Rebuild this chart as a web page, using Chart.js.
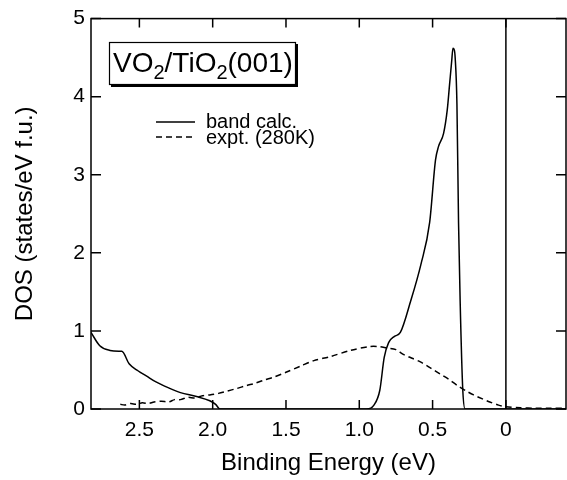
<!DOCTYPE html>
<html>
<head>
<meta charset="utf-8">
<script src="https://cdn.jsdelivr.net/npm/chart.js@4.4.0/dist/chart.umd.min.js"></script>
<style>
  html, body { margin: 0; padding: 0; background: #fff; }
  #c { display: block; }
</style>
</head>
<body>
<canvas id="c" width="567" height="480"></canvas>
<script>
// binding energy (eV), listed left to right as drawn (high -> low)
const bandEnergy = [2.83, 2.77, 2.70, 2.64, 2.62, 2.57, 2.51, 2.45, 2.39, 2.30, 2.22, 2.11, 2.02, 1.98, 1.95,
  1.50, 0.95, 0.90, 0.86, 0.83, 0.80, 0.76, 0.72, 0.65, 0.58, 0.52, 0.48, 0.46, 0.425, 0.40, 0.384, 0.37,
  0.361, 0.352, 0.346, 0.334, 0.323, 0.312, 0.294, 0.278, 0, -0.41];
const bandDos = [0.98, 0.81, 0.75, 0.74, 0.74, 0.58, 0.49, 0.42, 0.35, 0.27, 0.21, 0.16, 0.105, 0.06, 0,
  0, 0, 0.05, 0.24, 0.66, 0.85, 0.93, 0.98, 1.38, 1.85, 2.39, 3.19, 3.36, 3.53, 3.83, 4.16, 4.45,
  4.62, 4.6, 4.5, 3.91, 2.39, 1.38, 0.24, 0, 0, 0];

const exptEnergy = [2.63, 2.60, 2.56, 2.52, 2.48, 2.44, 2.40, 2.35, 2.30, 2.26, 2.22, 2.17, 2.12, 2.07, 2.02,
  1.96, 1.90, 1.84, 1.77, 1.71, 1.65, 1.58, 1.50, 1.40, 1.31, 1.20, 1.06, 0.93, 0.87, 0.81, 0.75,
  0.70, 0.64, 0.58, 0.51, 0.45, 0.39, 0.33, 0.27, 0.22, 0.16, 0.11, 0.05, 0.0, -0.1, -0.2, -0.3, -0.41];
const exptDos = [0.06, 0.05, 0.07, 0.06, 0.08, 0.07, 0.09, 0.10, 0.09, 0.12, 0.12, 0.15, 0.14, 0.17, 0.18,
  0.20, 0.23, 0.26, 0.30, 0.33, 0.37, 0.41, 0.47, 0.55, 0.62, 0.67, 0.75, 0.80, 0.80, 0.78, 0.76,
  0.70, 0.65, 0.60, 0.52, 0.45, 0.38, 0.30, 0.23, 0.18, 0.13, 0.09, 0.05, 0.03, 0.015, 0.01, 0.01, 0.01];

const xTicks = [2.5, 2.0, 1.5, 1.0, 0.5, 0];
const xTickLabels = ['2.5', '2.0', '1.5', '1.0', '0.5', '0'];
const yTicks = [0, 1, 2, 3, 4, 5];
const fermiEnergy = 0;

const seriesNames = ['band calc.', 'expt. (280K)'];
const FONT = '"Liberation Sans", Arial, sans-serif';

const toPoints = (xs, ys) => xs.map((x, i) => ({ x, y: ys[i] }));

// frame, inward ticks, sample label and legend
const decorations = {
  id: 'decorations',
  afterDraw(chart) {
    const { ctx, chartArea: a, scales } = chart;
    ctx.save();
    ctx.strokeStyle = '#000';
    ctx.lineWidth = 1.5;
    ctx.strokeRect(a.left, a.top, a.right - a.left, a.bottom - a.top);
    ctx.beginPath();
    xTicks.forEach((v) => {
      const px = scales.x.getPixelForValue(v);
      ctx.moveTo(px, a.bottom); ctx.lineTo(px, a.bottom - 9);
      ctx.moveTo(px, a.top); ctx.lineTo(px, a.top + 9);
    });
    yTicks.forEach((v) => {
      const py = scales.y.getPixelForValue(v);
      ctx.moveTo(a.left, py); ctx.lineTo(a.left + 10, py);
      ctx.moveTo(a.right, py); ctx.lineTo(a.right - 10, py);
    });
    ctx.stroke();

    // sample label box with shadow
    ctx.fillStyle = '#000';
    ctx.fillRect(111, 44, 187, 43);
    ctx.fillStyle = '#fff';
    ctx.fillRect(109, 42, 187, 43);
    ctx.lineWidth = 1.2;
    ctx.strokeRect(109.5, 42.5, 186, 42);
    const parts = [['VO', 28, 0], ['2', 20, 7], ['/TiO', 28, 0], ['2', 20, 7], ['(001)', 28, 0]];
    let tx = 113;
    ctx.fillStyle = '#000';
    ctx.textBaseline = 'alphabetic';
    parts.forEach(([t, s, dy]) => {
      ctx.font = s + 'px ' + FONT;
      ctx.fillText(t, tx, 72 + dy);
      tx += ctx.measureText(t).width;
    });

    // legend
    ctx.font = '20px ' + FONT;
    ctx.lineWidth = 1.3;
    ctx.beginPath();
    ctx.moveTo(156, 122); ctx.lineTo(195, 122);
    ctx.stroke();
    ctx.fillText(seriesNames[0], 206, 128);
    ctx.setLineDash([6, 4]);
    ctx.beginPath();
    ctx.moveTo(156, 137); ctx.lineTo(195, 137);
    ctx.stroke();
    ctx.setLineDash([]);
    ctx.fillText(seriesNames[1], 206, 144);
    ctx.restore();
  }
};

new Chart(document.getElementById('c'), {
  type: 'line',
  data: {
    datasets: [
      {
        label: seriesNames[0],
        data: toPoints(bandEnergy, bandDos),
        borderColor: '#000',
        borderWidth: 1.5,
        pointRadius: 0,
        cubicInterpolationMode: 'monotone',
      },
      {
        label: seriesNames[1],
        data: toPoints(exptEnergy, exptDos),
        borderColor: '#000',
        borderWidth: 1.5,
        borderDash: [6, 4],
        pointRadius: 0,
        tension: 0.3,
      },
      {
        label: 'EF',
        data: [{ x: fermiEnergy, y: yTicks[0] }, { x: fermiEnergy, y: yTicks[yTicks.length - 1] }],
        borderColor: '#000',
        borderWidth: 1.5,
        pointRadius: 0,
      },
    ],
  },
  options: {
    responsive: false,
    animation: false,
    devicePixelRatio: 1,
    layout: { padding: { top: 14, right: 1, left: 0, bottom: 0 } },
    plugins: { legend: { display: false }, tooltip: { enabled: false } },
    scales: {
      x: {
        type: 'linear',
        reverse: true,
        min: -0.41,
        max: 2.83,
        grid: { display: false, drawTicks: false },
        border: { display: false },
        afterBuildTicks: (scale) => { scale.ticks = xTicks.map((v) => ({ value: v })); },
        afterFit: (scale) => { scale.height = 71; },
        ticks: {
          autoSkip: false,
          maxRotation: 0,
          padding: 9,
          color: '#000',
          font: { family: FONT, size: 21 },
          callback: (v) => xTickLabels[xTicks.indexOf(v)],
        },
        title: {
          display: true,
          text: 'Binding Energy (eV)',
          color: '#000',
          font: { family: FONT, size: 24 },
          padding: { top: 0, bottom: 2 },
        },
      },
      y: {
        min: 0,
        max: 5,
        grid: { display: false, drawTicks: false },
        border: { display: false },
        afterBuildTicks: (scale) => { scale.ticks = yTicks.map((v) => ({ value: v })); },
        afterFit: (scale) => { scale.width = 91; },
        ticks: {
          padding: 6,
          color: '#000',
          font: { family: FONT, size: 21 },
        },
        title: {
          display: true,
          text: 'DOS (states/eV f.u.)',
          color: '#000',
          font: { family: FONT, size: 24 },
          padding: { top: 11, bottom: 0 },
        },
      },
    },
  },
  plugins: [decorations],
});
</script>
</body>
</html>
